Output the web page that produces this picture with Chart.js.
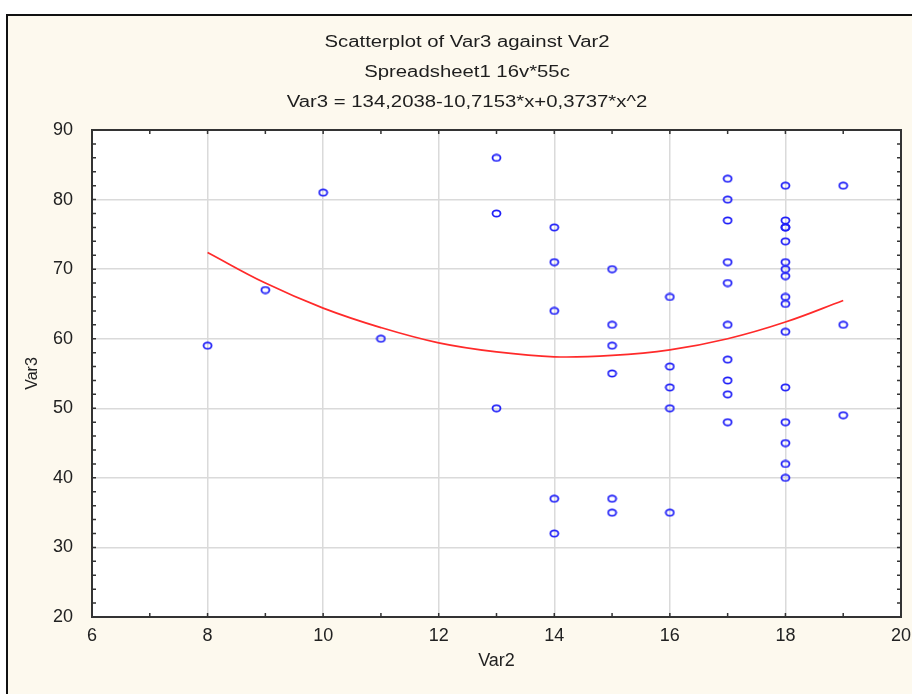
<!DOCTYPE html>
<html>
<head>
<meta charset="utf-8">
<script src="https://cdn.jsdelivr.net/npm/chart.js@4.4.1/dist/chart.umd.min.js"></script>
<style>
  html, body { margin: 0; padding: 0; background: #fff; }
</style>
</head>
<body>
<canvas id="scatterChart" width="912" height="694"></canvas>
<script>
// chart texts
const titleLines = [
    'Scatterplot of Var3 against Var2',
    'Spreadsheet1 16v*55c',
    'Var3 = 134,2038-10,7153*x+0,3737*x^2'
];

const var2 = [8, 9, 10, 11,
    13, 13, 13,
    14, 14, 14, 14, 14,
    15, 15, 15, 15, 15, 15,
    16, 16, 16, 16, 16,
    17, 17, 17, 17, 17, 17, 17, 17, 17, 17,
    18, 18, 18, 18, 18, 18, 18, 18, 18, 18, 18, 18, 18, 18, 18, 18,
    19, 19, 19];
const var3 = [59, 67, 81, 60,
    86, 78, 50,
    76, 71, 64, 37, 32,
    70, 62, 59, 55, 37, 35,
    66, 56, 53, 50, 35,
    83, 80, 77, 71, 68, 62, 57, 54, 52, 48,
    82, 77, 76, 76, 74, 71, 70, 69, 66, 65, 61, 53, 48, 45, 42, 40,
    82, 62, 49];

// fitted curve
const fitX = [8, 9, 10, 11, 12, 13, 14, 15, 16, 17, 18, 19];
const fitY = [72.4, 68.0, 64.4, 61.6, 59.4, 58.1, 57.4, 57.6, 58.4, 60.0, 62.4, 65.5];

// axes
const xMin = 6, xMax = 20, xStep = 2;
const yMin = 20, yMax = 90, yStep = 10;

const fontFamily = '"Liberation Sans", Arial, sans-serif';

// slightly wide hollow marker, like the original
function makeMarker() {
    const m = document.createElement('canvas');
    m.width = 11; m.height = 9;
    const g = m.getContext('2d');
    g.strokeStyle = '#2020f8';
    g.lineWidth = 1.8;
    g.beginPath();
    g.ellipse(5.5, 4.5, 4, 3.2, 0, 0, Math.PI * 2);
    g.stroke();
    return m;
}

const framePlugin = {
    id: 'framePlugin',
    beforeDraw(chart) {
        const c = chart.ctx;
        const a = chart.chartArea;
        c.save();
        c.fillStyle = '#ffffff';
        c.fillRect(0, 0, chart.width, chart.height);
        c.fillStyle = '#fdf9ee';
        c.fillRect(6, 14, chart.width - 6, chart.height - 14);
        c.strokeStyle = '#111';
        c.lineWidth = 2;
        c.beginPath();
        c.moveTo(7, chart.height);
        c.lineTo(7, 15);
        c.lineTo(chart.width, 15);
        c.stroke();
        c.fillStyle = '#ffffff';
        c.fillRect(a.left, a.top, a.right - a.left, a.bottom - a.top);
        // titles (the original text is drawn a bit wide)
        c.fillStyle = '#1e1e1e';
        c.font = '16px ' + fontFamily;
        c.textAlign = 'center';
        c.textBaseline = 'middle';
        titleLines.forEach((t, i) => {
            c.save();
            c.translate(467, 43 + i * 30);
            c.scale(1.27, 1);
            c.fillText(t, 0, 0);
            c.restore();
        });
        c.restore();
    },
    beforeDatasetsDraw(chart) {
        const c = chart.ctx;
        const a = chart.chartArea;
        const xs = chart.scales.x, ys = chart.scales.y;
        c.save();
        c.strokeStyle = '#333';
        c.lineWidth = 2;
        c.strokeRect(a.left, a.top, a.right - a.left, a.bottom - a.top);
        // inward minor ticks
        c.lineWidth = 1.5;
        c.beginPath();
        for (let v = xMin + 1; v < xMax; v++) {
            const px = xs.getPixelForValue(v);
            c.moveTo(px, a.bottom); c.lineTo(px, a.bottom - 4);
            c.moveTo(px, a.top); c.lineTo(px, a.top + 4);
        }
        for (let v = yMin + 2; v < yMax; v += 2) {
            const py = ys.getPixelForValue(v);
            c.moveTo(a.left, py); c.lineTo(a.left + 4, py);
            c.moveTo(a.right, py); c.lineTo(a.right - 4, py);
        }
        c.stroke();
        c.restore();
    }
};

const points = var2.map((x, i) => ({ x: x, y: var3[i] }));
const curve = fitX.map((x, i) => ({ x: x, y: fitY[i] }));

new Chart(document.getElementById('scatterChart').getContext('2d'), {
    type: 'scatter',
    data: {
        datasets: [{
            label: 'Var3',
            data: points,
            pointStyle: makeMarker(),
            pointRadius: 4,
            borderColor: '#2020f8',
            backgroundColor: 'rgba(255,255,255,0)',
            order: 1
        }, {
            label: 'fit',
            data: curve,
            showLine: true,
            borderColor: '#ff2a2a',
            borderWidth: 1.7,
            tension: 0.4,
            pointRadius: 0,
            order: 2
        }]
    },
    options: {
        responsive: false,
        animation: false,
        devicePixelRatio: 1,
        layout: { padding: { top: 130, right: 11, left: 0, bottom: 0 } },
        plugins: {
            legend: { display: false },
            tooltip: { enabled: false }
        },
        scales: {
            x: {
                type: 'linear',
                min: xMin, max: xMax,
                ticks: {
                    stepSize: xStep,
                    padding: 8,
                    color: '#222',
                    font: { family: fontFamily, size: 18 }
                },
                grid: { color: '#dadada', lineWidth: 1.5, drawTicks: false },
                border: { display: false },
                title: {
                    display: true,
                    text: 'Var2',
                    color: '#222',
                    font: { family: fontFamily, size: 18 },
                    padding: { top: 0, bottom: 22 }
                },
                afterFit(scale) {
                    scale.height = 77;
                    scale.paddingRight = 0; // let the last label run past the edge
                }
            },
            y: {
                type: 'linear',
                min: yMin, max: yMax,
                ticks: {
                    stepSize: yStep,
                    padding: 19,
                    color: '#222',
                    font: { family: fontFamily, size: 18 }
                },
                grid: { color: '#dadada', lineWidth: 1.5, drawTicks: false },
                border: { display: false },
                title: {
                    display: true,
                    text: 'Var3',
                    color: '#222',
                    font: { family: fontFamily, size: 16 },
                    padding: { top: 23, bottom: 0 }
                },
                afterFit(scale) { scale.width = 92; }
            }
        }
    },
    plugins: [framePlugin]
});
</script>
</body>
</html>
